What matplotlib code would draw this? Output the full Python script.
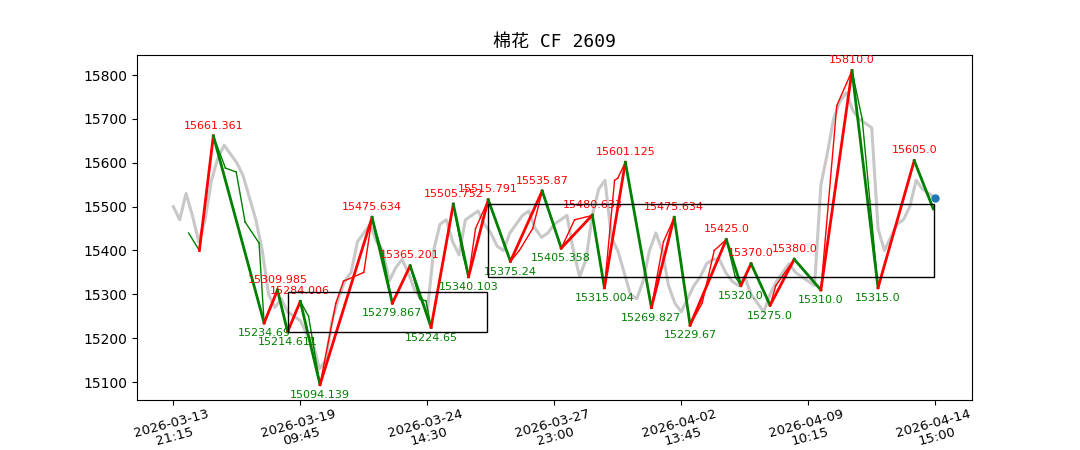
import matplotlib
matplotlib.use("Agg")
import matplotlib.pyplot as plt

plt.rcParams['font.family'] = ['Noto Sans CJK SC', 'DejaVu Sans']

title = "棉花 CF 2609"
tick_pos = [0, 200, 400, 600, 800, 1000, 1200]
tick_labels = ["2026-03-13\n21:15", "2026-03-19\n09:45", "2026-03-24\n14:30", "2026-03-27\n23:00",
               "2026-04-02\n13:45", "2026-04-09\n10:15", "2026-04-14\n15:00"]

# gray price series, one value per 10 bars
price = [15500, 15470, 15530, 15480, 15420, 15470, 15560, 15610, 15640, 15620,
         15600, 15570, 15520, 15470, 15400, 15300, 15270, 15290, 15260, 15250,
         15240, 15210, 15190, 15130, 15150, 15240, 15290, 15330, 15350, 15420,
         15440, 15460, 15420, 15400, 15330, 15360, 15380, 15350, 15310, 15290,
         15260, 15400, 15460, 15470, 15420, 15390, 15470, 15480, 15490, 15460,
         15440, 15410, 15400, 15440, 15460, 15480, 15490, 15450, 15430, 15440,
         15460, 15470, 15480, 15400, 15340, 15380, 15480, 15540, 15560, 15430,
         15400, 15350, 15300, 15290, 15330, 15400, 15440, 15400, 15320, 15280,
         15260, 15290, 15320, 15340, 15370, 15380, 15380, 15350, 15330, 15320,
         15340, 15300, 15280, 15260, 15300, 15330, 15350, 15370, 15350, 15340,
         15330, 15320, 15550, 15620, 15700, 15740, 15760, 15720, 15700, 15690,
         15680, 15450, 15400, 15430, 15460, 15470, 15500, 15560, 15540, 15530, 15520]

# main zigzag (thick)
zz_idx = [41, 63, 143, 164, 180, 200, 231, 313, 345, 373, 406, 441, 465, 496, 531, 581, 611,
          660, 679, 712, 753, 789, 814, 871, 894, 910, 940, 978, 1020, 1069, 1110, 1167, 1197]
zz_val = [15400, 15661.361, 15234.69, 15309.985, 15214.611, 15284.006, 15094.139, 15475.634,
          15279.867, 15365.201, 15224.65, 15505.752, 15340.103, 15515.791, 15375.24, 15535.87,
          15405.358, 15480.633, 15315.004, 15601.125, 15269.827, 15475.634, 15229.67, 15425.0,
          15320.0, 15370.0, 15275.0, 15380.0, 15310.0, 15810.0, 15315.0, 15605.0, 15495.0]

# secondary thin zigzag
thin_idx = [24, 41, 63, 82, 99, 113, 135, 143, 164, 180, 200, 213, 231, 256, 268, 300, 313,
            330, 345, 373, 388, 398, 406, 441, 456, 465, 476, 496, 531, 545, 566, 581, 611,
            632, 660, 679, 695, 700, 712, 753, 772, 789, 814, 833, 852, 871, 885, 894, 910,
            940, 949, 978, 1020, 1045, 1069, 1085, 1110, 1167, 1197]
thin_val = [15440, 15400, 15661, 15588, 15579, 15465, 15417, 15235, 15310, 15215, 15284, 15250,
            15094, 15280, 15330, 15350, 15475, 15390, 15280, 15365, 15290, 15285, 15225, 15505,
            15390, 15340, 15450, 15515, 15375, 15400, 15450, 15535, 15405, 15470, 15480, 15315,
            15560, 15565, 15601, 15270, 15420, 15475, 15230, 15280, 15400, 15425, 15340, 15320,
            15370, 15275, 15320, 15380, 15310, 15730, 15810, 15700, 15315, 15605, 15495]

boxes = [(180, 494, 15214.611, 15305.0), (496, 1198, 15340.103, 15505.752)]
last_idx, last_val = 1200, 15520

fig = plt.figure(figsize=(10.8, 4.5), dpi=100)
ax = fig.add_axes([0.127, 0.111, 0.773, 0.767])

px = [i * 10 for i in range(len(price))]
ax.plot(px, price, color='#c8c8c8', lw=2.2, zorder=1)

for i in range(len(thin_idx) - 1):
    c = 'red' if thin_val[i + 1] > thin_val[i] else 'green'
    ax.plot(thin_idx[i:i + 2], thin_val[i:i + 2], color=c, lw=1, zorder=2)
for i in range(len(zz_idx) - 1):
    c = 'red' if zz_val[i + 1] > zz_val[i] else 'green'
    ax.plot(zz_idx[i:i + 2], zz_val[i:i + 2], color=c, lw=2, zorder=3)

for i in range(1, len(zz_idx) - 1):
    v = zz_val[i]
    lab = f"{round(v, 3)}"
    if v > zz_val[i - 1]:
        ax.text(zz_idx[i], v + 12, lab, color='red', fontsize=8, ha='center', va='bottom',
                family='DejaVu Sans')
    else:
        ax.text(zz_idx[i], v - 12, lab, color='green', fontsize=8, ha='center', va='top',
                family='DejaVu Sans')

for x0, x1, y0, y1 in boxes:
    ax.add_patch(plt.Rectangle((x0, y0), x1 - x0, y1 - y0, fill=False, ec='black', lw=1, zorder=4))

ax.scatter([last_idx], [last_val], color='#1f77b4', s=25, zorder=5)

ax.set_xlim(-57, 1258)
ax.set_ylim(15059, 15846)
ax.set_xticks(tick_pos)
ax.set_xticklabels(tick_labels, rotation=15, family='DejaVu Sans', fontsize=9.5,
                   linespacing=1.0)
ax.tick_params(axis='x', pad=2)
ax.set_yticks(range(15100, 15801, 100))
for t in ax.get_yticklabels():
    t.set_family('DejaVu Sans')
ax.set_title(title, fontsize=13, family=['DejaVu Sans Mono', 'Noto Sans CJK SC'])
fig.savefig("out.png")
